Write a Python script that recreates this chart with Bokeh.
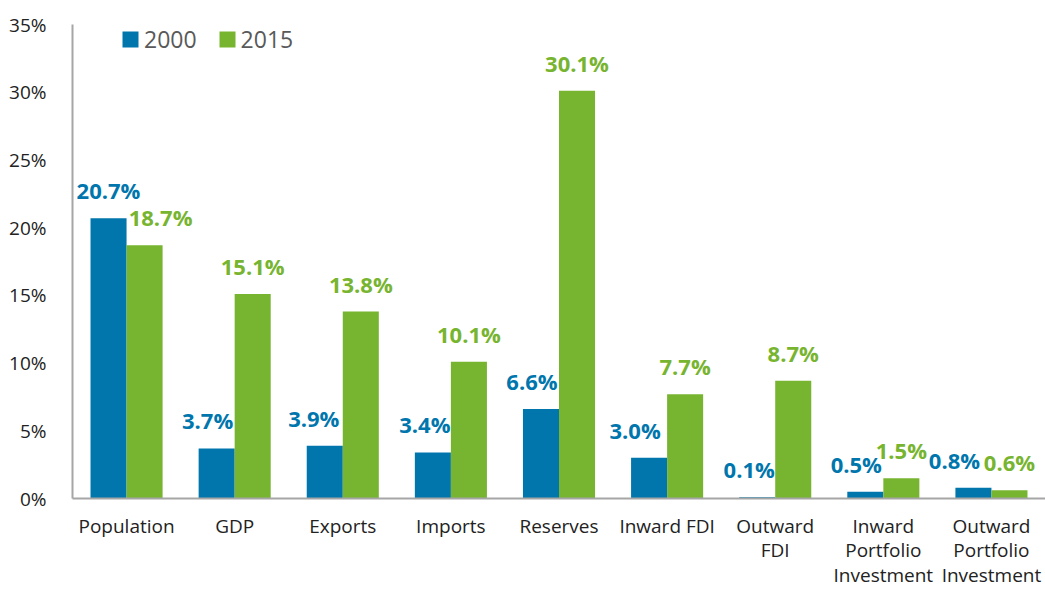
from bokeh.plotting import figure
from bokeh.models import ColumnDataSource, FactorRange, Range1d, FixedTicker, LabelSet, Legend, LegendItem
from bokeh.core.properties import value
from bokeh.transform import dodge
from bokeh.embed import file_html
from bokeh.resources import INLINE

categories = ["Population", "GDP", "Exports", "Imports", "Reserves", "Inward FDI",
              "Outward\nFDI", "Inward\nPortfolio\nInvestment", "Outward\nPortfolio\nInvestment"]
values_2000 = [20.7, 3.7, 3.9, 3.4, 6.6, 3.0, 0.1, 0.5, 0.8]
values_2015 = [18.7, 15.1, 13.8, 10.1, 30.1, 7.7, 8.7, 1.5, 0.6]
y_ticks = [0, 5, 10, 15, 20, 25, 30, 35]

BLUE = "#0076AD"
GREEN = "#77B42F"
FONT = "Open Sans"

# horizontal nudges (px) of the value labels, as placed in the original
nudge_2000 = [0, -9, -11, -8, -9, -14, -8, -9, -19]
nudge_2015 = [16, 0, 0, 0, 0, 0, 0, 0, 0]

src = ColumnDataSource(dict(
    cat=categories,
    v2000=values_2000,
    v2015=values_2015,
    l2000=[f"{v:.1f}%" for v in values_2000],
    l2015=[f"{v:.1f}%" for v in values_2015],
    dx2000=nudge_2000,
    dx2015=nudge_2015,
))

p = figure(x_range=FactorRange(factors=categories, range_padding=0),
           y_range=Range1d(0, 35),
           width=1045, height=590, output_backend="svg", toolbar_location=None,
           min_border_left=72, min_border_right=0, min_border_top=24, min_border_bottom=91)
p.outline_line_color = None
p.xgrid.grid_line_color = None
p.ygrid.grid_line_color = None

r1 = p.vbar(x=dodge("cat", -1/6, range=p.x_range), top="v2000", width=1/3, source=src,
            fill_color=BLUE, line_color=None)
r2 = p.vbar(x=dodge("cat", 1/6, range=p.x_range), top="v2015", width=1/3, source=src,
            fill_color=GREEN, line_color=None)

for col, lab, dx, off, color in [("v2000", "l2000", "dx2000", -1/6, BLUE),
                                 ("v2015", "l2015", "dx2015", 1/6, GREEN)]:
    ls = LabelSet(x=dodge("cat", off, range=p.x_range), y=col, text=lab, source=src,
                  x_offset=dx, y_offset=19,
                  text_align="center", text_baseline="alphabetic",
                  text_font=value(FONT), text_font_style="bold", text_font_size="22px",
                  text_color=color)
    p.add_layout(ls)

p.yaxis.ticker = FixedTicker(ticks=y_ticks)
p.yaxis.major_label_overrides = {t: f"{t}%" for t in y_ticks}
for ax in (p.xaxis, p.yaxis):
    ax.major_tick_line_color = None
    ax.minor_tick_line_color = None
    ax.major_tick_out = 0
    ax.major_tick_in = 0
    ax.axis_line_color = "#A6A6A6"
    ax.axis_line_width = 2
    ax.major_label_text_font = FONT
    ax.major_label_text_color = "#222222"
p.yaxis.major_label_text_font_size = "19px"
p.yaxis.major_label_standoff = 26
p.xaxis.major_label_text_font_size = "19px"
p.xaxis.major_label_standoff = 14
p.xaxis.major_label_text_line_height = 0.95

legend = Legend(items=[LegendItem(label="2000", renderers=[r1]),
                       LegendItem(label="2015", renderers=[r2])],
                orientation="horizontal", location=(48, 443),
                label_text_font=FONT, label_text_font_size="23px", label_text_color="#595959",
                glyph_width=20, glyph_height=20, label_standoff=4, spacing=20,
                padding=0, margin=0, border_line_color=None, background_fill_alpha=0)
p.add_layout(legend)

open("out.html", "w").write(file_html(p, INLINE))
